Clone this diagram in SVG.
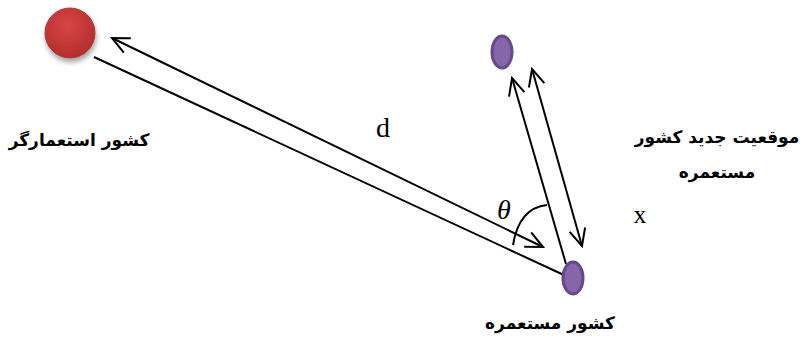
<svg xmlns="http://www.w3.org/2000/svg" width="811" height="344" viewBox="0 0 811 344">
<style>
.ln{stroke:#000;stroke-width:2;fill:none}
.fa{font-family:"DejaVu Sans","Noto Sans",sans-serif;font-weight:bold;font-size:17px;fill:#000;text-anchor:middle}
.lat{font-family:"Liberation Serif","Times New Roman",serif;fill:#000}
.vio{fill:#8665a9;stroke:#644a8a;stroke-width:3}
</style>
<defs>
<marker id="ah" viewBox="0 0 20 20" refX="18" refY="10" markerWidth="20" markerHeight="20" markerUnits="userSpaceOnUse" orient="auto-start-reverse">
<path d="M1,2 L18,10 L1,18" fill="none" stroke="#000" stroke-width="2"/>
</marker>
<radialGradient id="red" cx="45%" cy="35%" r="65%">
<stop offset="0" stop-color="#d84545"/>
<stop offset="1" stop-color="#b32e2e"/>
</radialGradient>
<filter id="sh" x="-30%" y="-30%" width="170%" height="170%">
<feDropShadow dx="1" dy="4" stdDeviation="2.5" flood-color="#000" flood-opacity="0.35"/>
</filter>
</defs>
<g id="connectors">
<line class="ln" x1="543" y1="247" x2="112" y2="38" marker-start="url(#ah)" marker-end="url(#ah)"/>
<line class="ln" x1="94" y1="57" x2="566" y2="276"/>
<line class="ln" x1="566" y1="264" x2="512" y2="78" marker-end="url(#ah)"/>
<line class="ln" x1="582" y1="246" x2="532" y2="69" marker-start="url(#ah)" marker-end="url(#ah)"/>
<path class="ln" d="M513,245 Q519,208 547,205"/>
</g>
<g id="colonizer">
<circle cx="70" cy="33" r="25" fill="url(#red)" stroke="#b83535" stroke-width="1" filter="url(#sh)"/>
<text class="fa" x="79" y="146">کشور استعمارگر</text>
</g>
<g id="colony">
<ellipse class="vio" cx="573" cy="278" rx="10" ry="16"/>
<text class="fa" x="550" y="329">کشور  مستعمره</text>
</g>
<g id="new-position">
<ellipse class="vio" cx="502" cy="52" rx="10" ry="16"/>
<text class="fa" x="717" y="143">موقعیت جدید کشور</text>
<text class="fa" x="717" y="178">مستعمره</text>
</g>
<g id="labels">
<text class="lat" x="383" y="137" font-size="28" text-anchor="middle">d</text>
<text class="lat" x="640" y="223" font-size="26" text-anchor="middle">x</text>
<text class="lat" x="504" y="219" font-size="28" font-style="italic" text-anchor="middle">θ</text>
</g>
</svg>
